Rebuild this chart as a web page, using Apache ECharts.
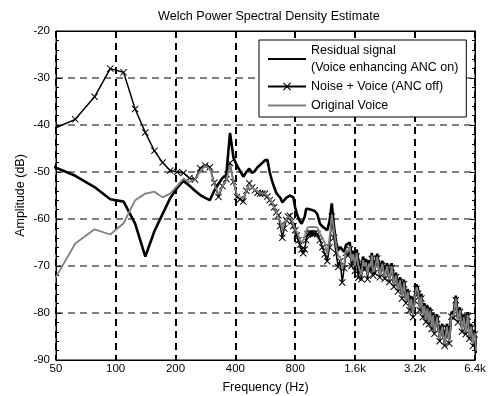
<!DOCTYPE html>
<html>
<head>
<meta charset="utf-8">
<title>Welch PSD</title>
<script src="https://cdn.jsdelivr.net/npm/echarts@6/dist/echarts.min.js"></script>
<style>
    html, body { margin: 0; padding: 0; background: #fff; }
    #main { width: 488px; height: 396px; }
</style>
</head>
<body>
<div id="main"></div>
<script>
// FFT bin width (Hz) and the bins that were read off the picture
// (every bin up to 1 kHz, then thinned out per octave)
var binHz = 15.625;
var bins = [];
for (var k = 3; k <= 64; k++) bins.push(k);
for (var k = 66; k <= 128; k += 2) bins.push(k);
for (var k = 132; k <= 256; k += 4) bins.push(k);
for (var k = 264; k <= 416; k += 8) bins.push(k);
var freqs = bins.map(function (b) { return b * binHz; });

var xTicks = [50, 100, 200, 400, 800, 1600, 3200, 6400];
var xTickText = ['50', '100', '200', '400', '800', '1.6k', '3.2k', '6.4k'];

// Residual signal (Voice enhancing ANC on), dB
var residual = [
    -48.6, -50.8, -53.2, -55.8, -56.3, -61.0, -68.0, -62.6, -58.9, -55.6,
    -53.4, -51.9, -52.9, -54.0, -54.9, -55.5, -56.0, -54.0, -52.5, -51.3,
    -50.6, -41.7, -47.0, -48.6, -49.8, -51.0, -50.0, -49.3, -50.2, -49.8,
    -49.0, -48.5, -48.0, -47.5, -47.4, -50.0, -51.8, -53.2, -54.4, -55.0,
    -55.5, -56.5, -56.5, -55.5, -55.2, -55.0, -54.9, -55.4, -57.5, -58.8,
    -59.8, -60.5, -61.0, -60.6, -59.5, -57.8, -57.6, -57.9, -58.1, -58.1,
    -58.0, -58.3,
    -59.0, -61.0, -61.6, -62.0, -62.4, -60.5, -56.7, -61.5, -65.0, -66.5,
    -66.0, -66.5, -67.0, -65.5, -65.8, -65.0, -67.5, -66.8, -68.8, -66.5,
    -68.8, -68.8, -70.8, -68.0, -69.2, -68.5, -71.0, -68.8, -69.5, -67.2,
    -70.5, -70.0,
    -67.4, -71.4, -68.9, -71.7, -69.4, -72.4, -69.4, -73.4, -71.4, -74.4,
    -72.4, -75.9, -72.9, -76.9, -74.9, -78.4, -76.4, -79.9, -76.4, -73.9,
    -74.9, -78.4, -75.9, -79.9, -77.9, -80.9, -78.4, -81.4, -78.9, -82.4,
    -79.9, -83.4,
    -80.3, -85.0, -82.3, -86.0, -82.3, -85.5, -79.8, -80.0, -76.3, -81.0,
    -78.8, -83.0, -80.3, -83.5, -79.8, -84.5, -82.3, -86.0, -83.6, -87.5
];

// Noise + Voice (ANC off), dB
var noiseVoice = [
    -41.1, -38.8, -34.0, -28.0, -28.8, -36.6, -41.6, -45.5, -48.0, -49.7,
    -50.0, -50.2, -51.3, -51.6, -49.2, -48.6, -49.0, -52.3, -55.3, -53.0,
    -51.5, -48.1, -52.1, -55.3, -55.8, -56.3, -54.0, -52.4, -53.3, -53.9,
    -54.4, -54.6, -54.6, -54.6, -55.2, -56.0, -56.5, -57.5, -58.6, -59.2,
    -61.5, -64.0, -62.0, -60.2, -59.5, -59.3, -60.5, -61.5, -62.4, -63.5,
    -64.5, -65.5, -66.5, -67.3, -66.5, -64.5, -63.3, -63.1, -63.0, -63.1,
    -63.1, -63.1,
    -63.2, -64.5, -66.0, -67.5, -69.0, -66.0, -59.5, -64.0, -67.3, -70.2,
    -69.0, -73.5, -70.5, -67.2, -67.8, -66.5, -70.0, -68.3, -71.0, -68.0,
    -72.5, -70.3, -72.8, -69.5, -70.8, -70.0, -72.8, -70.3, -71.0, -68.5,
    -72.0, -71.5,
    -68.4, -72.4, -69.9, -72.7, -70.4, -73.4, -70.4, -74.4, -72.4, -75.4,
    -73.4, -76.9, -73.9, -77.9, -75.9, -79.4, -77.4, -80.9, -77.4, -74.9,
    -75.9, -79.4, -76.9, -80.9, -78.9, -81.9, -79.4, -82.4, -79.9, -83.4,
    -80.9, -84.4,
    -81.3, -86.0, -83.3, -87.0, -83.3, -86.5, -80.8, -81.0, -77.3, -82.0,
    -79.8, -84.0, -81.3, -84.5, -80.8, -85.5, -83.3, -87.0, -84.6, -88.5
];

// Original Voice, dB
var voice = [
    -74.4, -65.2, -62.2, -63.3, -60.9, -56.0, -54.6, -54.2, -55.4, -54.6,
    -53.0, -51.4, -52.1, -51.7, -49.8, -48.7, -49.3, -52.5, -54.8, -53.0,
    -51.8, -48.5, -52.0, -54.8, -55.3, -55.7, -54.0, -52.6, -53.3, -53.8,
    -54.2, -54.5, -54.6, -54.6, -55.0, -55.8, -56.4, -57.6, -58.5, -59.6,
    -60.5, -62.5, -61.0, -60.0, -59.5, -59.2, -60.0, -61.2, -62.2, -62.7,
    -63.5, -64.5, -65.0, -65.2, -64.0, -62.5, -61.8, -61.7, -61.7, -61.7,
    -61.7, -61.7,
    -61.8, -63.0, -64.0, -65.2, -67.5, -64.0, -59.0, -62.5, -65.5, -68.0,
    -68.0, -70.5, -69.5, -66.5, -67.0, -65.8, -69.0, -67.5, -70.0, -67.2,
    -69.8, -69.5, -72.0, -68.8, -70.0, -69.2, -72.0, -69.5, -70.2, -67.8,
    -71.3, -70.8,
    -68.0, -72.0, -69.5, -72.3, -70.0, -73.0, -70.0, -74.0, -72.0, -75.0,
    -73.0, -76.5, -73.5, -77.5, -75.5, -79.0, -77.0, -80.5, -77.0, -74.5,
    -75.5, -79.0, -76.5, -80.5, -78.5, -81.5, -79.0, -82.0, -79.5, -83.0,
    -80.5, -84.0,
    -80.9, -85.6, -82.9, -86.6, -82.9, -86.1, -80.4, -80.6, -76.9, -81.6,
    -79.4, -83.6, -80.9, -84.1, -80.4, -85.1, -82.9, -86.6, -84.2, -88.1
];

function pairs(ys) {
    return freqs.map(function (f, i) { return [f, ys[i]]; });
}

// log ticks come back slightly off (199.9...), snap them to the nearest label
function freqLabel(v) {
    var best = 0;
    for (var i = 1; i < xTicks.length; i++) {
        if (Math.abs(Math.log(v / xTicks[i])) < Math.abs(Math.log(v / xTicks[best]))) best = i;
    }
    return xTickText[best];
}

var font = '"Liberation Sans", Arial, Helvetica, sans-serif';
var crossMark = 'path://M0,1L1,0L5,4L9,0L10,1L6,5L10,9L9,10L5,6L1,10L0,9L4,5Z';

var chart = echarts.init(document.getElementById('main'));

var option = {
    animation: false,
    backgroundColor: '#fff',
    textStyle: { fontFamily: font },
    title: {
        text: 'Welch Power Spectral Density Estimate',
        left: 153,
        top: 5,
        textStyle: { fontFamily: font, fontSize: 12.6, fontWeight: 'normal', color: '#000' }
    },
    grid: {
        left: 56, right: 13, top: 31, bottom: 36,
        outerBoundsMode: 'none',
        show: true, borderColor: '#000', borderWidth: 1, backgroundColor: '#fff'
    },
    legend: {
        left: 259,
        top: 40,
        orient: 'vertical',
        selectedMode: false,
        backgroundColor: '#fff',
        borderColor: '#000',
        borderWidth: 1,
        padding: [2, 8, 3, 8],
        itemGap: 2,
        itemWidth: 38,
        itemHeight: 10,
        data: [
            { name: 'Residual signal\n(Voice enhancing ANC on)', itemStyle: { opacity: 0 } },
            { name: 'Noise + Voice (ANC off)' },
            { name: 'Original Voice', itemStyle: { opacity: 0 } }
        ],
        textStyle: { fontFamily: font, fontSize: 12.5, color: '#000', lineHeight: 17 }
    },
    xAxis: [{
        type: 'log',
        logBase: 2,
        min: 50,
        max: 6400,
        interval: 1,
        name: 'Frequency (Hz)',
        nameLocation: 'middle',
        nameGap: 21,
        nameMoveOverlap: false,
        nameTextStyle: { fontFamily: font, fontSize: 12.5, color: '#000' },
        axisLine: { lineStyle: { color: '#000', width: 1 } },
        axisTick: { inside: true, length: 5, lineStyle: { color: '#000' } },
        axisLabel: {
            margin: 3, fontFamily: font, fontSize: 11.5, color: '#000',
            showMinLabel: true, showMaxLabel: true,
            formatter: freqLabel
        },
        splitLine: { show: true, lineStyle: { color: '#000', width: 2, type: [7, 5] } }
    }, {
        type: 'log',
        logBase: 2,
        min: 50,
        max: 6400,
        interval: 1,
        position: 'top',
        axisLine: { lineStyle: { color: '#000', width: 1 } },
        axisTick: { inside: true, length: 5, lineStyle: { color: '#000' } },
        axisLabel: { show: false },
        splitLine: { show: false }
    }],
    yAxis: [{
        type: 'value',
        min: -90,
        max: -20,
        interval: 10,
        name: 'Amplitude (dB)',
        nameLocation: 'middle',
        nameGap: 29,
        nameMoveOverlap: false,
        nameTextStyle: { fontFamily: font, fontSize: 12.5, color: '#000' },
        axisLine: { show: true, lineStyle: { color: '#000', width: 1 } },
        axisTick: { show: true, inside: true, length: 5, lineStyle: { color: '#000' } },
        minorTick: { show: true, splitNumber: 5, length: 3, lineStyle: { color: '#000' } },
        axisLabel: { margin: 6, fontFamily: font, fontSize: 11.5, color: '#000' },
        splitLine: { show: true, lineStyle: { color: '#808080', width: 1.8, type: [7, 5] } }
    }, {
        type: 'value',
        min: -90,
        max: -20,
        interval: 10,
        position: 'right',
        axisLine: { show: true, lineStyle: { color: '#000', width: 1 } },
        axisTick: { show: true, inside: true, length: 5, lineStyle: { color: '#000' } },
        minorTick: { show: true, splitNumber: 5, length: 3, lineStyle: { color: '#000' } },
        axisLabel: { show: false },
        splitLine: { show: false }
    }],
    series: [{
        name: 'Residual signal\n(Voice enhancing ANC on)',
        type: 'line',
        z: 2,
        data: pairs(residual),
        symbol: 'none',
        color: '#000',
        lineStyle: { color: '#000', width: 2.6 }
    }, {
        name: 'Noise + Voice (ANC off)',
        type: 'line',
        z: 3,
        data: pairs(noiseVoice),
        symbol: crossMark,
        symbolSize: 7,
        showSymbol: true,
        color: '#000',
        itemStyle: { color: '#000' },
        lineStyle: { color: '#000', width: 1.5 }
    }, {
        name: 'Original Voice',
        type: 'line',
        z: 4,
        data: pairs(voice),
        symbol: 'none',
        color: '#808080',
        lineStyle: { color: '#808080', width: 1.8 }
    }]
};

chart.setOption(option);
</script>
</body>
</html>
